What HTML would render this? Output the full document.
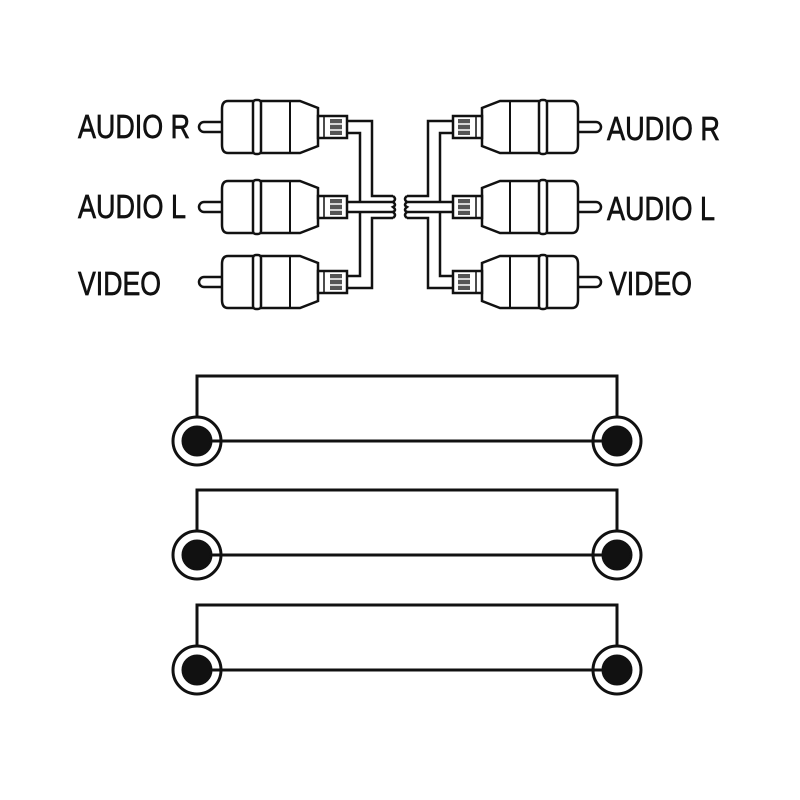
<!DOCTYPE html>
<html><head><meta charset="utf-8"><style>html,body{margin:0;padding:0;background:#fff}svg{display:block}</style></head><body>
<svg width="800" height="800" viewBox="0 0 800 800" xmlns="http://www.w3.org/2000/svg">
<defs>
<g id="plug" fill="#fff" stroke="#111" stroke-width="2.5">
  <path d="M222,-5 H204 a5,5 0 0 0 0,10 H222" />
  <path d="M228,-26 H300 L318,-19 V19 L300,26 H228 Q222,26 222,18 V-18 Q222,-26 228,-26 Z"/>
  <rect x="253" y="-27" width="8" height="54" rx="3"/>
  <line x1="290" y1="-25" x2="290" y2="25" stroke-width="2"/>
  <rect x="318" y="-11" width="29" height="22"/>
  <line x1="324" y1="-11" x2="324" y2="11" stroke-width="1.5"/>
  <rect x="330" y="-8" width="12" height="16" fill="#555" stroke="none"/>
  <line x1="330" y1="-3" x2="342" y2="-3" stroke="#fff" stroke-width="1.5"/>
  <line x1="330" y1="3" x2="342" y2="3" stroke="#fff" stroke-width="1.5"/>
</g>
<g id="side">
  <use href="#plug" transform="translate(0,127)"/>
  <use href="#plug" transform="translate(0,207)"/>
  <use href="#plug" transform="translate(0,282)"/>
  <g fill="none" stroke="#111" stroke-width="2.5">
    <path d="M347,121 H372 V196 H393"/>
    <path d="M347,133 H360 V202"/>
    <path d="M347,288 H372 V218 H393"/>
    <path d="M347,276 H360 V212"/>
    <path d="M347,202 H393 M347,212 H393"/>
    <path d="M393,196 q4,3 0,6 q4,3 0,5 q4,3 0,5 q4,3 0,6"/>
  </g>
</g>
</defs>
<use href="#side"/>
<use href="#side" transform="translate(800,0) scale(-1,1)"/>
<g font-family="Liberation Sans, sans-serif" font-size="33" fill="#111" stroke="#111" stroke-width="0.7">
  <text x="78" y="138" textLength="112" lengthAdjust="spacingAndGlyphs">AUDIO R</text>
  <text x="78" y="218" textLength="108" lengthAdjust="spacingAndGlyphs">AUDIO L</text>
  <text x="78" y="295" textLength="83" lengthAdjust="spacingAndGlyphs">VIDEO</text>
  <text x="607" y="140" textLength="113" lengthAdjust="spacingAndGlyphs">AUDIO R</text>
  <text x="607" y="220" textLength="108" lengthAdjust="spacingAndGlyphs">AUDIO L</text>
  <text x="609" y="295" textLength="83" lengthAdjust="spacingAndGlyphs">VIDEO</text>
</g>
<g fill="none" stroke="#111" stroke-width="3">
  <path d="M197,417 V376 H617 V417 M197,441 H617"/>
  <path d="M197,531 V490 H617 V531 M197,555 H617"/>
  <path d="M197,646 V605 H617 V646 M197,670 H617"/>
</g>
<g stroke="#111" stroke-width="3">
  <circle cx="197" cy="441" r="24" fill="#fff"/><circle cx="197" cy="441" r="14" fill="#111"/>
  <circle cx="617" cy="441" r="24" fill="#fff"/><circle cx="617" cy="441" r="14" fill="#111"/>
  <circle cx="197" cy="555" r="24" fill="#fff"/><circle cx="197" cy="555" r="14" fill="#111"/>
  <circle cx="617" cy="555" r="24" fill="#fff"/><circle cx="617" cy="555" r="14" fill="#111"/>
  <circle cx="197" cy="670" r="24" fill="#fff"/><circle cx="197" cy="670" r="14" fill="#111"/>
  <circle cx="617" cy="670" r="24" fill="#fff"/><circle cx="617" cy="670" r="14" fill="#111"/>
</g>
<g stroke="#111" stroke-width="3">
  <line x1="211" y1="441" x2="617" y2="441"/>
  <line x1="211" y1="555" x2="617" y2="555"/>
  <line x1="211" y1="670" x2="617" y2="670"/>
</g>
</svg>
</body></html>
